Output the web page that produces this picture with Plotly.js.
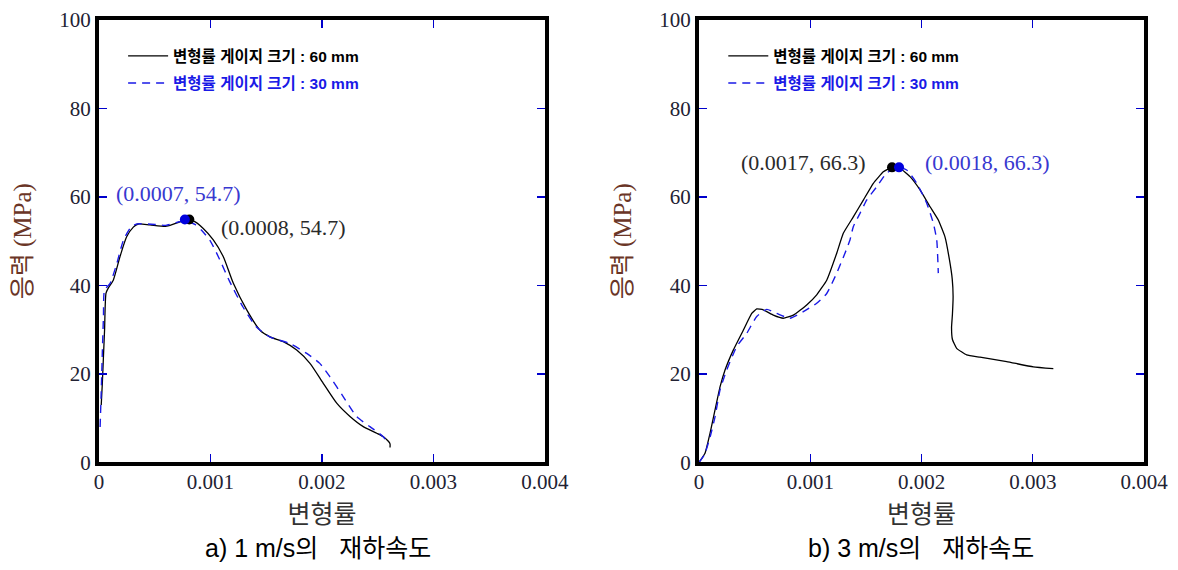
<!DOCTYPE html>
<html><head><meta charset="utf-8">
<script src="https://cdn.plot.ly/plotly-3.0.1.min.js"></script>
<style>html,body{margin:0;padding:0;background:#fff}#chart{width:1178px;height:570px}</style>
</head><body><div id="chart"></div>
<script>
// ---- data (strain, stress MPa) ----
const leftStrain60 = [0.00002, 0.00003, 0.00004, 0.00005, 0.000063, 0.000083, 0.000128, 0.000188, 0.000248, 0.000308, 0.000352, 0.000457, 0.000607, 0.000726, 0.000787, 0.000846, 0.000935, 0.001025, 0.001115, 0.001205, 0.001325, 0.001444, 0.001534, 0.001653, 0.001773, 0.001892, 0.002011, 0.002132, 0.002251, 0.002370, 0.002491, 0.002550, 0.002595, 0.00261, 0.00261];
const leftStress60 = [13, 18, 24, 30, 38.3, 39.4, 41.2, 46.5, 51, 53.2, 53.9, 53.7, 53.4, 54.4, 54.8, 54.6, 52.9, 50.3, 46.5, 40.5, 34.5, 29.9, 28.4, 27.3, 25.4, 22.4, 17.9, 13.4, 10.4, 8.1, 6.6, 5.8, 4.8, 4.2, 3.4];
const leftStrain30 = [0.00001, 0.00002, 0.00003, 0.00004, 0.00005, 0.0001, 0.00016, 0.00022, 0.00029, 0.00034, 0.0005, 0.0006, 0.00072, 0.00077, 0.00086, 0.00092, 0.001, 0.00108, 0.00117, 0.00129, 0.00141, 0.00153, 0.00171, 0.00186, 0.00198, 0.00207, 0.00219, 0.00231, 0.00243, 0.00255, 0.00259];
const leftStress30 = [8, 16, 25, 33, 39, 40.5, 45, 50.3, 53.3, 53.9, 53.8, 53.6, 54.4, 54.7, 53.8, 52.5, 50, 46, 41, 35.2, 30.7, 28.4, 26.9, 24.7, 22.4, 19.4, 14.9, 10.4, 8.1, 5.8, 4.3];

const rightStrain60 = [0, 0.000054, 0.000099, 0.000144, 0.000189, 0.000234, 0.000308, 0.000398, 0.000474, 0.000519, 0.000578, 0.000668, 0.000758, 0.000848, 0.000968, 0.001058, 0.001148, 0.001238, 0.001297, 0.001387, 0.001477, 0.001567, 0.001657, 0.001732, 0.001807, 0.001897, 0.001987, 0.002077, 0.002151, 0.002211, 0.002250, 0.002276, 0.002284, 0.002278, 0.002270, 0.002278, 0.002316, 0.002406, 0.002526, 0.002766, 0.003005, 0.003185];
const rightStress60 = [0, 2.1, 6.6, 11.9, 17.1, 20.9, 25.4, 29.9, 33.7, 34.7, 34.5, 33.3, 32.6, 33.3, 35.6, 37.9, 41.2, 47.3, 51.8, 55.5, 59.3, 63.1, 65.7, 66.7, 66.5, 64.6, 61.6, 57.8, 54.8, 51, 46, 41.5, 37.5, 33.5, 30.5, 27.8, 25.8, 24.3, 23.8, 22.8, 21.6, 21.2];
const rightStrain30 = [0, 0.00005, 0.0001, 0.000144, 0.000189, 0.000249, 0.000339, 0.000429, 0.000519, 0.000609, 0.000698, 0.000818, 0.000938, 0.001058, 0.001148, 0.001238, 0.001312, 0.001357, 0.001387, 0.001447, 0.001507, 0.001597, 0.001687, 0.001777, 0.001867, 0.001957, 0.002047, 0.002106, 0.002137, 0.002151];
const rightStress30 = [0, 1.8, 5.8, 10.3, 16.4, 20.9, 26.2, 29.2, 33, 34.6, 33.7, 32.6, 34.1, 36, 38.2, 42.8, 47.3, 50.3, 53.3, 56.3, 59.3, 62.3, 65.4, 66.7, 66.1, 63.1, 58.6, 54.1, 50.3, 42.8];

// peak points: [60 mm, 30 mm]
const leftPeakStrain = [0.00081, 0.00077];
const leftPeakStress = [54.9, 54.9];
const leftPeakLabels = ["(0.0008, 54.7)", "(0.0007, 54.7)"];
const rightPeakStrain = [0.001735, 0.001798];
const rightPeakStress = [66.7, 66.7];
const rightPeakLabels = ["(0.0017, 66.3)", "(0.0018, 66.3)"];

const seriesNames = ["<b>변형률 게이지 크기 : 60 mm</b>", "<b><span style='color:#1a1ae6'>변형률 게이지 크기 : 30 mm</span></b>"];
const xTickVals = [0, 0.001, 0.002, 0.003, 0.004];
const xTickText = ["0", "0.001", "0.002", "0.003", "0.004"];
const yTickVals = [0, 20, 40, 60, 80, 100];
const captions = ["a) 1 m/s의   재하속도", "b) 3 m/s의   재하속도"];
const xTitle = "변형률";
const yTitle = "응력 (MPa)";

const BLACK = '#000000', BLUE = '#1a1ae6';
const sansKR = 'Liberation Sans, Arial, Noto Sans CJK KR, sans-serif';
const serif = 'Liberation Serif, Times New Roman, Noto Sans CJK KR, serif';

function lineTrace(x, y, xa, ya, color, dash, name, leg, grp, sm) {
  return {x: x, y: y, xaxis: xa, yaxis: ya, type: 'scatter', mode: 'lines',
    line: {color: color, width: dash ? 1.4 : 1.3, dash: dash || 'solid', shape: 'spline', smoothing: sm},
    name: name, legend: leg, legendgroup: grp, showlegend: true, hoverinfo: 'skip'};
}
function dotTrace(x, y, xa, ya, color) {
  return {x: [x], y: [y], xaxis: xa, yaxis: ya, type: 'scatter', mode: 'markers',
    marker: {color: color, size: 10}, showlegend: false, hoverinfo: 'skip'};
}

const traces = [
  lineTrace(leftStrain60, leftStress60, 'x', 'y', BLACK, null, seriesNames[0], 'legend', 'a60', 0.6),
  lineTrace(leftStrain30, leftStress30, 'x', 'y', BLUE, '8px,6px', seriesNames[1], 'legend', 'a30', 0.6),
  dotTrace(leftPeakStrain[0], leftPeakStress[0], 'x', 'y', BLACK),
  dotTrace(leftPeakStrain[1], leftPeakStress[1], 'x', 'y', '#0000dd'),
  lineTrace(rightStrain60, rightStress60, 'x2', 'y2', BLACK, null, seriesNames[0], 'legend2', 'b60', 0.35),
  lineTrace(rightStrain30, rightStress30, 'x2', 'y2', BLUE, '8px,6px', seriesNames[1], 'legend2', 'b30', 0.5),
  dotTrace(rightPeakStrain[0], rightPeakStress[0], 'x2', 'y2', BLACK),
  dotTrace(rightPeakStrain[1], rightPeakStress[1], 'x2', 'y2', '#0000dd')
];

function xAxis(domain, anchor) {
  return {domain: domain, anchor: anchor, range: [0, 0.004], tickvals: xTickVals, ticktext: xTickText,
    ticks: 'inside', ticklen: 8, tickwidth: 1.2, tickcolor: '#0000cc',
    showline: true, linewidth: 4, linecolor: '#000', mirror: 'allticks',
    showgrid: false, zeroline: false, ticklabelstandoff: -3,
    tickfont: {family: serif, size: 21, color: '#222233'},
    title: {text: xTitle, font: {family: sansKR, size: 25, color: '#333'}, standoff: 14}};
}
function yAxis(domain, anchor) {
  return {domain: domain, anchor: anchor, range: [0, 100], tickvals: yTickVals,
    ticks: 'inside', ticklen: 8, tickwidth: 1.2, tickcolor: '#0000cc',
    showline: true, linewidth: 4, linecolor: '#000', mirror: 'allticks',
    showgrid: false, zeroline: false,
    tickfont: {family: serif, size: 21, color: '#222233'},
    title: {text: yTitle, font: {family: serif, size: 25, color: '#6a3526'}, standoff: 22}};
}

const yDom = [0.1886, 0.9649];
const legendCommon = {y: 0.931, xanchor: 'left', yanchor: 'top', bgcolor: 'rgba(0,0,0,0)',
  font: {family: sansKR, size: 15.5, color: '#000'}, tracegroupgap: 4, itemwidth: 40, traceorder: 'grouped'};
const layout = {
  width: 1178, height: 570, margin: {l: 0, r: 0, t: 0, b: 0},
  paper_bgcolor: '#fff', plot_bgcolor: '#fff', showlegend: true,
  xaxis: xAxis([0.08404, 0.46265], 'y'),
  yaxis: yAxis(yDom, 'x'),
  xaxis2: xAxis([0.59338, 0.97114], 'y2'),
  yaxis2: yAxis(yDom, 'x2'),
  legend: Object.assign({x: 0.1045}, legendCommon),
  legend2: Object.assign({x: 0.614}, legendCommon),
  annotations: [
    {x: leftPeakStrain[0], y: leftPeakStress[0], xref: 'x', yref: 'y', text: leftPeakLabels[0], showarrow: false,
      xanchor: 'left', yanchor: 'middle', xshift: 30, yshift: -8, font: {family: serif, size: 22, color: '#2a2a2a'}},
    {x: leftPeakStrain[1], y: leftPeakStress[1], xref: 'x', yref: 'y', text: leftPeakLabels[1], showarrow: false,
      xanchor: 'center', yanchor: 'middle', xshift: -6, yshift: 26, font: {family: serif, size: 22, color: '#3838d0'}},
    {x: rightPeakStrain[0], y: rightPeakStress[0], xref: 'x2', yref: 'y2', text: rightPeakLabels[0], showarrow: false,
      xanchor: 'right', yanchor: 'middle', xshift: -24, yshift: 5, font: {family: serif, size: 22, color: '#2a2a2a'}},
    {x: rightPeakStrain[1], y: rightPeakStress[1], xref: 'x2', yref: 'y2', text: rightPeakLabels[1], showarrow: false,
      xanchor: 'left', yanchor: 'middle', xshift: 24, yshift: 5, font: {family: serif, size: 22, color: '#3838d0'}},
    {x: 0.27, y: 0.038, xref: 'paper', yref: 'paper', text: captions[0], showarrow: false,
      xanchor: 'center', yanchor: 'middle', font: {family: sansKR, size: 25, color: '#000'}},
    {x: 0.782, y: 0.038, xref: 'paper', yref: 'paper', text: captions[1], showarrow: false,
      xanchor: 'center', yanchor: 'middle', font: {family: sansKR, size: 25, color: '#000'}}
  ]
};

Plotly.newPlot('chart', traces, layout, {staticPlot: true, displayModeBar: false});
</script>
</body></html>
